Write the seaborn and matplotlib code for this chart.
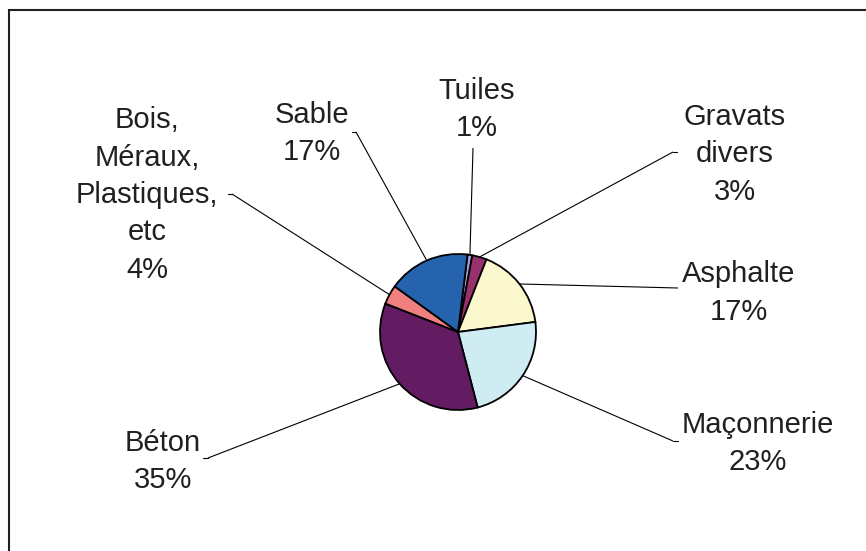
import numpy as np
import matplotlib
matplotlib.use("Agg")
import matplotlib.pyplot as plt
import seaborn as sns

# Composition of construction waste (%)
categories = ["Tuiles", "Gravats divers", "Asphalte", "Maçonnerie", "Béton",
              "Bois, Méraux, Plastiques, etc", "Sable"]
label_lines = [["Tuiles"], ["Gravats", "divers"], ["Asphalte"], ["Maçonnerie"],
               ["Béton"], ["Bois,", "Méraux,", "Plastiques,", "etc"], ["Sable"]]
values = [1, 3, 17, 23, 35, 4, 17]
colors = ["#A0A0E0", "#98306B", "#FBF8CE", "#D0ECF3", "#631C61", "#F08080", "#2563AE"]

sns.set_theme(style="white")
plt.rcParams["font.family"] = ["Liberation Sans", "DejaVu Sans"]

W, H = 866, 551
fig = plt.figure(figsize=(W / 100, H / 100), dpi=100)
ax = fig.add_axes([0, 0, 1, 1])

def py(y):
    # pixel row -> data y
    return H - y

cx, cy, R = 458, py(332), 78
wedges, _ = ax.pie(values, colors=colors, startangle=83, counterclock=False,
                   center=(cx, cy), radius=R, frame=True,
                   wedgeprops=dict(edgecolor="black", linewidth=1.3))
ax.set_xlim(0, W)
ax.set_ylim(0, H)
ax.set_aspect("equal")
ax.axis("off")

txt_color = "#231F20"
fs = 21
line_step = 37.5
# label anchor: (x centre, first baseline row), leader end (x, row), tick dx
layout = {
    "Tuiles": ((477, 99), (473, 148), 0),
    "Gravats divers": ((735, 125), (673, 152), 4),
    "Asphalte": ((739, 282), (678, 288), 0),
    "Maçonnerie": ((758, 433), (673, 441), 5),
    "Béton": ((163, 451), (208, 458), -5),
    "Bois, Méraux, Plastiques, etc": ((147, 128), (232, 194), -4),
    "Sable": ((312, 123), (356, 132), -4),
}

for w, cat, lines, v in zip(wedges, categories, label_lines, values):
    (tx, tb), (ex, ey), tick = layout[cat]
    for i, s in enumerate(lines + [f"{v}%"]):
        ax.text(tx, py(tb + i * line_step), s, ha="center", va="baseline",
                fontsize=fs, color=txt_color)
    mid = np.deg2rad((w.theta1 + w.theta2) / 2)
    sx, sy = cx + R * np.cos(mid), cy + R * np.sin(mid)
    ax.plot([sx, ex], [sy, py(ey)], color="black", lw=0.8, solid_capstyle="butt")
    if tick:
        ax.plot([ex, ex + tick], [py(ey), py(ey)], color="black", lw=0.8)

# chart area border
ax.plot([9, 9], [py(551), py(10.3)], color=txt_color, lw=1.5, solid_capstyle="butt")
ax.plot([8.3, W], [py(10.3), py(10.3)], color=txt_color, lw=1.5, solid_capstyle="butt")

fig.savefig("out.png", dpi=100, facecolor="white")
